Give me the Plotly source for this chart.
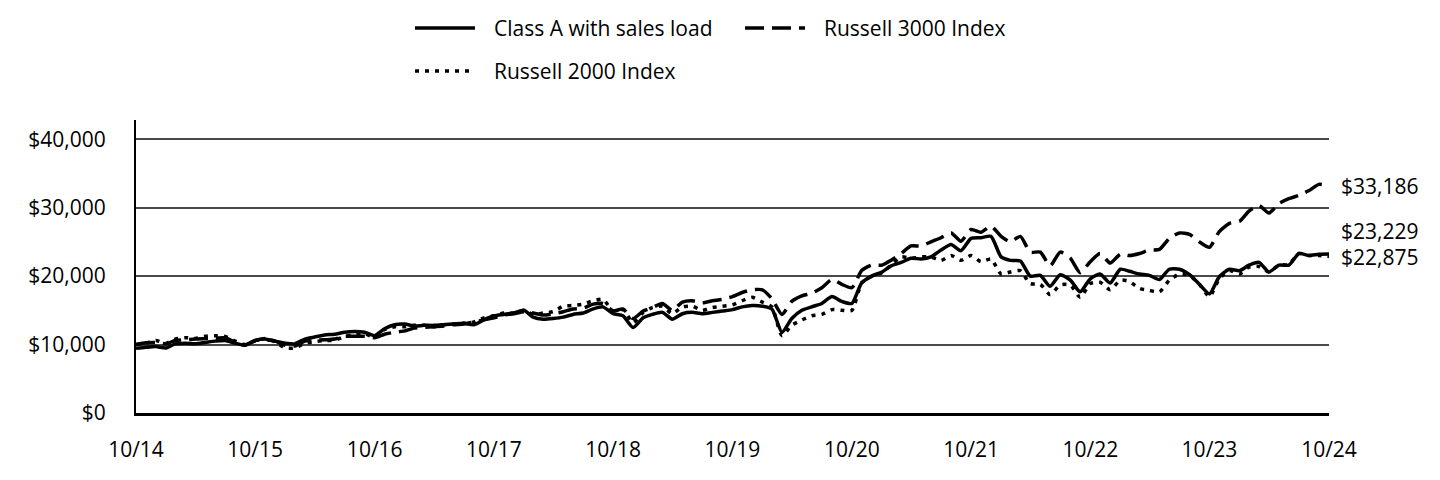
import pandas as pd
import plotly.graph_objects as go

# ---------------- data (monthly, 10/2014 .. 10/2024) ----------------
dates = pd.date_range("2014-10-31", "2024-10-31", freq="ME")

class_a = [9450, 9600, 9700, 9500, 10100, 10200, 10100, 10300, 10500, 10600, 10200, 9900,
           10600, 10800, 10500, 10200, 10100, 10800, 11100, 11400, 11500, 11800, 11900, 11800,
           11300, 12300, 12900, 13000, 12700, 12800, 12800, 12900, 13000, 13100, 12900, 13600,
           14200, 14400, 14600, 15000, 14000, 13700, 13800, 14000, 14400, 14600, 15200, 15500,
           14500, 14200, 12500, 13900, 14400, 14700, 13700, 14500, 14700, 14500, 14700, 14900,
           15100, 15500, 15700, 15600, 15200, 11800, 13800, 15000, 15500, 16000, 17000, 16300,
           16000, 19000, 20000, 20600, 21500, 22000, 22600, 22500, 22800, 23800, 24600, 23700,
           25500, 25600, 25800, 22800, 22300, 22200, 20000, 20100, 18500, 20200, 19400, 17700,
           19600, 20300, 19000, 21000, 20700, 20300, 20100, 19500, 21000, 21000, 20200, 18800,
           17400, 19900, 21000, 20800, 21600, 22000, 20600, 21600, 21600, 23300, 23000, 23200,
           23229]

russell_3000 = [10000, 10250, 10300, 10100, 10600, 10700, 10800, 10900, 10900, 11000, 10300, 9900,
                10600, 10700, 10500, 9900, 9800, 10500, 10600, 10700, 10800, 11200, 11200, 11200,
                11000, 11500, 11800, 12000, 12400, 12500, 12600, 12700, 12900, 13000, 13300, 13600,
                13900, 14300, 14500, 14800, 14600, 14300, 14500, 14800, 15200, 15300, 15900, 16000,
                14900, 15200, 13800, 14900, 15400, 16000, 15000, 16200, 16400, 16100, 16400, 16600,
                17000, 17600, 18000, 18000, 16700, 14400, 16300, 17100, 17500, 18300, 19500, 18800,
                18300, 20800, 21600, 21600, 22300, 23300, 24400, 24400, 25000, 25600, 26300, 25100,
                26800, 26400, 27300, 25800, 25000, 25800, 23500, 23500, 21500, 23500, 22600, 20500,
                22100, 23300, 21900, 23200, 23000, 23300, 23800, 23900, 25500, 26300, 26100, 25000,
                24200, 26500, 27700, 28000, 29500, 30300, 29200, 30600, 31300, 31800, 32500, 33400,
                33186]

russell_2000 = [10000, 10200, 10600, 10200, 10800, 11000, 10900, 11200, 11300, 11200, 10500, 10000,
                10500, 10900, 10400, 9500, 9500, 10200, 10400, 10600, 10600, 11200, 11400, 11600,
                11000, 12200, 12600, 12600, 12800, 12800, 12600, 12900, 13000, 13100, 13300, 13900,
                14200, 14600, 14600, 15000, 14400, 14600, 14800, 15600, 15700, 15900, 16400, 16600,
                14900, 15100, 13200, 14700, 15400, 15600, 14500, 15500, 15600, 15000, 15400, 15600,
                15800, 16400, 16900, 16200, 15500, 11300, 12800, 13600, 14200, 14400, 15100, 15000,
                15000, 19000, 20000, 20500, 21600, 22800, 22600, 22800, 22800, 22300, 23000, 22300,
                23000, 22100, 22500, 20300, 20600, 20800, 18900, 18800, 17300, 18700, 18700, 16900,
                18900, 19100, 18000, 19400, 19200, 18200, 17900, 17700, 19400, 20300, 20100, 18800,
                17000, 19600, 20800, 20300, 21300, 21400, 20600, 21600, 21700, 23300, 23000, 23000,
                22875]

series_names = ["Class A with sales load", "Russell 3000 Index", "Russell 2000 Index"]
tick_dates = pd.date_range("2014-10-31", "2024-10-31", freq="12ME")
tick_labels = ["10/14", "10/15", "10/16", "10/17", "10/18", "10/19",
               "10/20", "10/21", "10/22", "10/23", "10/24"]
y_ticks = [0, 10000, 20000, 30000, 40000]

# ---------------- figure ----------------
FONT = "Open Sans"
FS = 21
OFF = 8  # page body margin
W, H = 1440, 480
L, T = 136 - OFF, 120 - OFF
R = W - (1329 - OFF)
B = H - (413 - OFF)
PW, PH = W - L - R, H - T - B

styles = ["solid", "19px,8px", "4px,6px"]
label_shift = [23, 0, -1]

fig = go.Figure()
for name, vals, dash in zip(series_names, [class_a, russell_3000, russell_2000], styles):
    fig.add_trace(go.Scatter(
        x=dates, y=vals, mode="lines", name=name, showlegend=False,
        line=dict(color="black", width=3.5, dash=dash, shape="spline", smoothing=0.6),
    ))

# end-value labels
for vals, ys in zip([class_a, russell_3000, russell_2000], label_shift):
    fig.add_annotation(
        x=1, xref="paper", y=vals[-1], yref="y", xanchor="left", yanchor="middle",
        xshift=10, yshift=ys, text=f"${vals[-1]:,.0f}", showarrow=False,
        font=dict(family=FONT, size=FS, color="black"),
    )

# manual legend (two rows); positions in screen pixels
def px_to_paper_x(px):
    return (px - OFF - L) / PW

def px_to_paper_y(py):
    return (H - B - (py - OFF)) / PH

legend_items = [
    (series_names[0], styles[0], 415, 28),
    (series_names[1], styles[1], 745, 28),
    (series_names[2], styles[2], 415, 71),
]
for name, dash, lx, ly in legend_items:
    fig.add_shape(
        type="line", xref="paper", yref="paper",
        x0=px_to_paper_x(lx), x1=px_to_paper_x(lx + 60),
        y0=px_to_paper_y(ly), y1=px_to_paper_y(ly),
        line=dict(color="black", width=3.5, dash=dash),
    )
    fig.add_annotation(
        x=px_to_paper_x(lx + 77), xref="paper", y=px_to_paper_y(ly), yref="paper",
        xanchor="left", yanchor="middle", text=name, showarrow=False,
        font=dict(family=FONT, size=FS, color="black"),
    )

fig.update_layout(
    width=W, height=H,
    margin=dict(l=L, r=R, t=T, b=B, pad=0),
    paper_bgcolor="white", plot_bgcolor="white",
    font=dict(family=FONT, size=FS, color="black"),
    showlegend=False,
)
fig.update_xaxes(
    range=[dates[0], dates[-1]],
    tickvals=list(tick_dates), ticktext=tick_labels,
    showgrid=False, zeroline=False,
    showline=True, linecolor="black", linewidth=3,
    ticks="", ticklabelstandoff=16,
    tickfont=dict(family=FONT, size=FS, color="black"),
)
fig.update_yaxes(
    range=[0, 42800], tickvals=y_ticks, tickformat="$,.0f",
    showgrid=True, gridcolor="#4a4a4a", gridwidth=2,
    zeroline=False, showline=True, linecolor="black", linewidth=2,
    ticks="", ticklabelstandoff=24,
    tickfont=dict(family=FONT, size=FS, color="black"),
)

fig.write_html("out.html")
